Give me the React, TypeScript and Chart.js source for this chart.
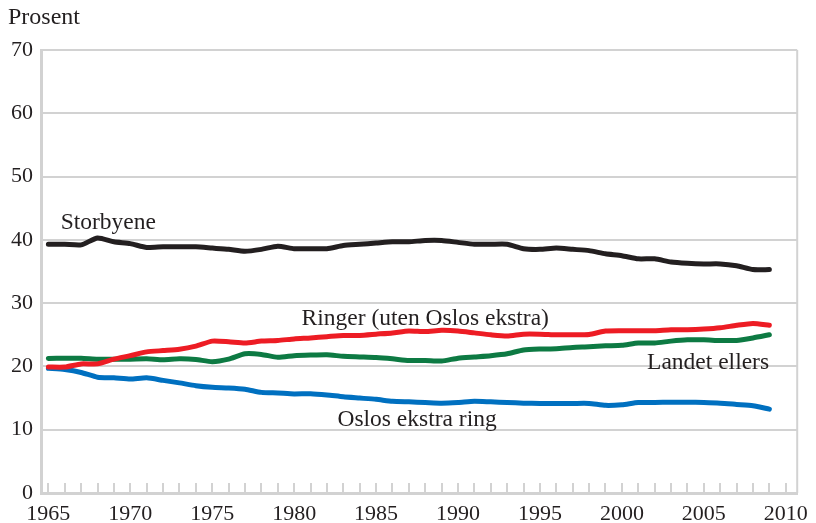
import React, { useEffect, useRef } from "react";
import { Chart, registerables } from "chart.js";

Chart.register(...registerables);

const years = [
  1965, 1966, 1967, 1968, 1969, 1970, 1971, 1972, 1973, 1974,
  1975, 1976, 1977, 1978, 1979, 1980, 1981, 1982, 1983, 1984,
  1985, 1986, 1987, 1988, 1989, 1990, 1991, 1992, 1993, 1994,
  1995, 1996, 1997, 1998, 1999, 2000, 2001, 2002, 2003, 2004,
  2005, 2006, 2007, 2008, 2009,
];

const storbyene = [
  39.3, 39.3, 39.2, 40.3, 39.7, 39.4, 38.8, 38.9, 38.9, 38.9,
  38.7, 38.5, 38.2, 38.5, 39.0, 38.6, 38.6, 38.6, 39.1, 39.3,
  39.5, 39.7, 39.7, 39.9, 39.9, 39.6, 39.3, 39.3, 39.3, 38.6,
  38.5, 38.7, 38.5, 38.3, 37.8, 37.5, 37.0, 37.0, 36.5, 36.3,
  36.2, 36.2, 35.9, 35.3, 35.3,
];

const ringer = [
  19.9, 19.9, 20.4, 20.4, 21.15, 21.7, 22.3, 22.5, 22.7, 23.2,
  24.0, 23.9, 23.7, 24.0, 24.1, 24.35, 24.5, 24.7, 24.9, 24.9,
  25.1, 25.3, 25.6, 25.5, 25.7, 25.6, 25.3, 25.0, 24.8, 25.1,
  25.1, 25.0, 25.0, 25.05, 25.6, 25.65, 25.65, 25.65, 25.8, 25.8,
  25.9, 26.1, 26.5, 26.8, 26.5,
];

const landetEllers = [
  21.25, 21.3, 21.3, 21.15, 21.15, 21.15, 21.2, 21.05, 21.2, 21.1,
  20.75, 21.15, 22.0, 21.9, 21.45, 21.7, 21.8, 21.85, 21.6, 21.5,
  21.4, 21.2, 20.95, 20.95, 20.85, 21.3, 21.5, 21.7, 22.0, 22.6,
  22.75, 22.8, 23.0, 23.1, 23.25, 23.35, 23.7, 23.7, 24.0, 24.2,
  24.2, 24.1, 24.1, 24.5, 25.0,
];

const oslosEkstraRing = [
  19.7, 19.5, 19.05, 18.3, 18.2, 18.0, 18.2, 17.8, 17.4, 16.95,
  16.7, 16.6, 16.4, 15.9, 15.8, 15.65, 15.7, 15.5, 15.2, 15.0,
  14.8, 14.5, 14.4, 14.3, 14.2, 14.3, 14.5, 14.4, 14.3, 14.2,
  14.15, 14.15, 14.15, 14.15, 13.85, 13.95, 14.3, 14.3, 14.35, 14.35,
  14.3, 14.2, 14.0, 13.8, 13.25,
];

const seriesLabels = [
  "Storbyene",
  "Ringer (uten Oslos ekstra)",
  "Landet ellers",
  "Oslos ekstra ring",
];

// label anchors in data coordinates: [year, value, align]
const labelYears = [1965.75, 1988.0, 2005.26, 1987.5];
const labelValues = [42.7, 27.55, 20.6, 11.6];
const labelAligns = ["left", "center", "center", "center"];

const yTicks = [0, 10, 20, 30, 40, 50, 60, 70];
const yAxisTitle = "Prosent";

const FONT = "'Liberation Serif', 'DejaVu Serif', serif";
const TEXT = "#231f20";
const GRID = "#d2d2d2";

const overlayPlugin = {
  id: "overlay",
  afterDatasetsDraw(chart: any) {
    const { ctx, chartArea, scales } = chart;
    const x = scales.x;
    const y = scales.y;
    ctx.save();
    // right border
    ctx.strokeStyle = GRID;
    ctx.lineWidth = 2;
    ctx.beginPath();
    ctx.moveTo(chartArea.right, chartArea.top);
    ctx.lineTo(chartArea.right, chartArea.bottom);
    ctx.stroke();
    // inward tick marks
    ctx.lineWidth = 2;
    for (const t of x.ticks) {
      const px = Math.round(x.getPixelForValue(t.value));
      ctx.beginPath();
      ctx.moveTo(px, chartArea.bottom - 10);
      ctx.lineTo(px, chartArea.bottom);
      ctx.stroke();
    }
    // series labels
    ctx.fillStyle = TEXT;
    ctx.font = `23.5px ${FONT}`;
    ctx.textBaseline = "middle";
    seriesLabels.forEach((s, i) => {
      ctx.textAlign = labelAligns[i] as CanvasTextAlign;
      ctx.fillText(s, x.getPixelForValue(labelYears[i]), y.getPixelForValue(labelValues[i]));
    });
    // y axis title
    ctx.font = `24px ${FONT}`;
    ctx.textAlign = "left";
    ctx.textBaseline = "middle";
    ctx.fillText(yAxisTitle, 8, 18);
    ctx.restore();
  },
};

export default function App() {
  const ref = useRef<HTMLCanvasElement>(null);

  useEffect(() => {
    const mk = (label: string, data: number[], color: string) => ({
      label,
      data: data.map((v, i) => ({ x: years[i], y: v })),
      borderColor: color,
      backgroundColor: color,
      borderWidth: 5,
      pointRadius: 0,
      tension: 0.2,
      borderCapStyle: "round",
      borderJoinStyle: "round",
    });
    const chart = new Chart(ref.current!, {
      type: "line",
      data: {
        datasets: [
          mk(seriesLabels[0], storbyene, "#231f20"),
          mk(seriesLabels[1], ringer, "#ed1c24"),
          mk(seriesLabels[2], landetEllers, "#0d7a43"),
          mk(seriesLabels[3], oslosEkstraRing, "#0070c0"),
        ] as any,
      },
      options: {
        animation: false,
        responsive: false,
        layout: { padding: { top: 50, right: 17, left: 0, bottom: 0 } },
        plugins: { legend: { display: false }, tooltip: { enabled: false } },
        scales: {
          x: {
            type: "linear",
            min: 1964.55,
            max: 2010.7,
            afterFit: (s: any) => {
              s.height = 30;
            },
            afterBuildTicks: (s: any) => {
              const t = [];
              for (let v = 1965; v <= 2010; v++) t.push({ value: v });
              s.ticks = t;
            },
            grid: { display: false, drawTicks: false },
            border: { display: true, color: GRID, width: 3 },
            ticks: {
              autoSkip: false,
              maxRotation: 0,
              padding: 8,
              color: TEXT,
              font: { family: FONT, size: 22 },
              callback: (v: any) => (Number(v) % 5 === 0 ? String(v) : ""),
            },
          },
          y: {
            min: 0,
            max: 70,
            afterFit: (s: any) => {
              s.width = 41;
            },
            afterBuildTicks: (s: any) => {
              s.ticks = yTicks.map((v) => ({ value: v }));
            },
            grid: { color: GRID, lineWidth: 2, drawTicks: false },
            border: { display: true, color: GRID, width: 3 },
            ticks: {
              padding: 8,
              color: TEXT,
              font: { family: FONT, size: 22 },
            },
          },
        },
      },
      plugins: [overlayPlugin],
    });
    return () => chart.destroy();
  }, []);

  return (
    <div style={{ position: "fixed", left: 0, top: 0, width: 816, height: 523, background: "#fff" }}>
      <canvas ref={ref} width={816} height={523} style={{ width: 816, height: 523 }} />
    </div>
  );
}
